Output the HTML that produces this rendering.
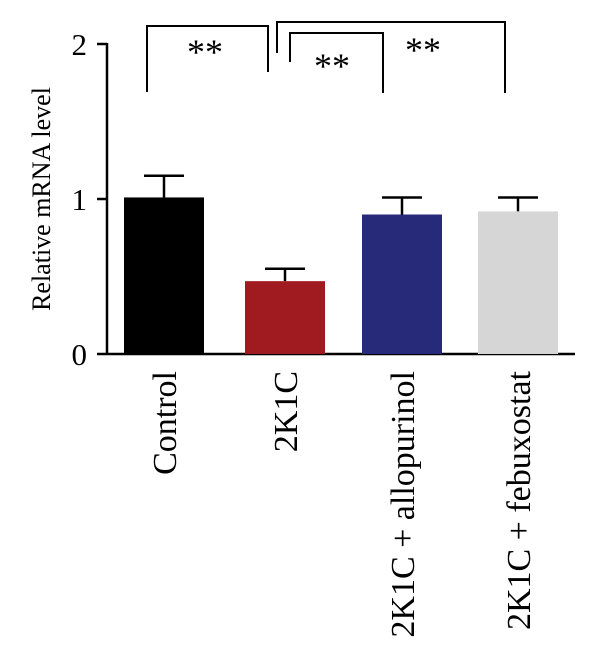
<!DOCTYPE html>
<html><head><meta charset="utf-8"><style>
body{margin:0;background:#fff}
svg{display:block;font-family:"Liberation Serif",serif}
</style></head><body>
<svg id="chart" width="600" height="659">
<g id="axes"></g><g id="bars"></g><g id="sig"></g>
</svg>
<script>
const categories=["Control","2K1C","2K1C + allopurinol","2K1C + febuxostat"];
const values=[1.01,0.47,0.90,0.92];
const errors=[0.14,0.08,0.11,0.09];
const colors=["#000000","#a01b1f","#262a78","#d6d6d6"];
const yTicks=[0,1,2];
const sigLabels=["**","**","**"];
const NS="http://www.w3.org/2000/svg";
const y0=354,pxPerUnit=155,axisX=107;
const y=v=>y0-v*pxPerUnit;
const barLeft=[124,245,362,478],barW=80;
const x=i=>barLeft[i];
function mk(tag,attrs,parent){const e=document.createElementNS(NS,tag);for(const k in attrs)e.setAttribute(k,attrs[k]);parent.appendChild(e);return e;}
const axes=document.getElementById('axes'),bars=document.getElementById('bars'),sig=document.getElementById('sig');
let l=mk('line',{x1:axisX,y1:y(2)-1,x2:axisX,y2:y0+1,stroke:'#000','stroke-width':2.5},axes);


l=mk('line',{x1:axisX,y1:y0,x2:575,y2:y0,stroke:'#000','stroke-width':2.5},axes);


yTicks.forEach(t=>{
 const tk=mk('line',{x1:axisX-10,y1:y(t),x2:axisX,y2:y(t),stroke:'#000','stroke-width':2.5},axes);
 
 
 const tx=mk('text',{x:axisX-20,y:y(t)+11,'text-anchor':'end','font-size':31},axes);
 tx.textContent=t;
 
 
});
const yt=mk('text',{x:0,y:0,transform:'translate(50,199) rotate(-90)','text-anchor':'middle','font-size':26},axes);
yt.textContent='Relative mRNA level';


categories.forEach((c,i)=>{
 const cx=x(i)+barW/2;
 const top=y(values[i]+errors[i]);
 const el=mk('line',{x1:cx,y1:top,x2:cx,y2:y(values[i]),stroke:'#000','stroke-width':2.5},bars);
 
 
 const cap=mk('line',{x1:cx-20,y1:top,x2:cx+20,y2:top,stroke:'#000','stroke-width':2.5},bars);
 
 
 const r=mk('rect',{x:x(i),y:y(values[i]),width:barW,height:y0-y(values[i]),fill:colors[i]},bars);
 
 
 const tx=mk('text',{x:0,y:0,transform:`translate(${cx+12},371) rotate(-90)`,'text-anchor':'end','font-size':34},axes);
 tx.textContent=c;
 
 
});
const brackets=[[147,92,268,72,26,205,52],[277,53,505,93,22,423,50],[290,62,383,93,33,332,66]];
brackets.forEach((b,i)=>{
 const p=mk('polyline',{points:`${b[0]},${b[1]} ${b[0]},${b[4]} ${b[2]},${b[4]} ${b[2]},${b[3]}`,fill:'none',stroke:'#000','stroke-width':2},sig);
 
 
 const t=mk('text',{x:b[5],y:b[6]+12,'text-anchor':'middle','font-size':36},sig);
 t.textContent=sigLabels[i];
 
 
});
</script>
</body></html>
